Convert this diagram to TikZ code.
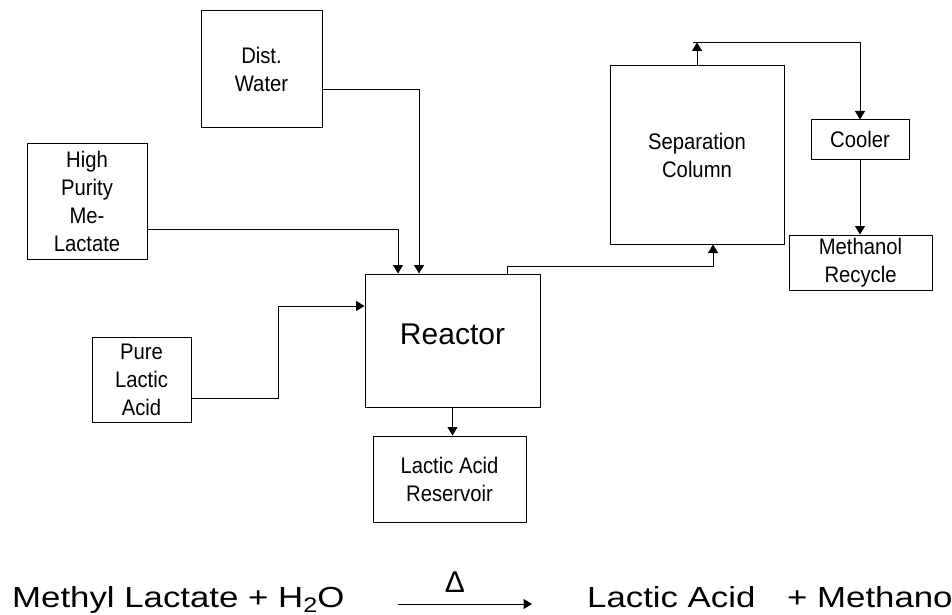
\documentclass[tikz,border=0pt]{standalone}
\usepackage{fontspec}
\setmainfont{Liberation Sans}
\newfontfamily\boxfont[FakeStretch=0.9]{Liberation Sans}
\newfontfamily\eqfont[FakeStretch=1.2]{Liberation Sans}
\usetikzlibrary{arrows.meta,calc}

\tikzset{
  unit/.style={draw, line width=1pt, inner sep=0pt, align=center,
    font=\boxfont\fontsize{22.5}{28}\selectfont},
  flow/.style={line width=0.9pt, -{Triangle[length=8.5pt,width=10pt]}},
  eqtext/.style={anchor=base west, inner sep=0pt,
    font=\eqfont\fontsize{29}{34}\selectfont}
}

\begin{document}
\begin{tikzpicture}[x=1pt,y=-1pt]
  \useasboundingbox (0,0) rectangle (952,615);
  % feed streams
  \node[unit, minimum width=121pt, minimum height=116pt] (water) at (261.5,69) {Dist.\\Water};
  \node[unit, minimum width=120pt, minimum height=116pt] (melac) at (87,201) {High\\Purity\\Me-\\Lactate};
  \node[unit, minimum width=99pt, minimum height=85pt] (pure) at (141.5,379.5) {Pure\\Lactic\\Acid};
  % reactor and reservoir
  \node[unit, minimum width=175pt, minimum height=133pt,
    font=\fontsize{30}{36}\selectfont] (reactor) at (452.5,340.5) {\raisebox{12pt}{Reactor}};
  \node[unit, minimum width=153pt, minimum height=86pt] (reservoir) at (449.5,479) {Lactic Acid\\Reservoir};
  % methanol side
  \node[unit, minimum width=174pt, minimum height=178pt] (column) at (697,155) {Separation\\Column};
  \node[unit, minimum width=98pt, minimum height=39pt] (cooler) at (860,139.5) {Cooler};
  \node[unit, minimum width=143pt, minimum height=55pt] (methanol) at (860.5,262.5) {Methanol\\Recycle};

  \draw[flow] ([yshift=-20pt]water.east) -| ([xshift=-33.5pt]reactor.north);
  \draw[flow] ([yshift=-28pt]melac.east) -| ([xshift=-54.5pt]reactor.north);
  \draw[flow] ([yshift=-18.5pt]pure.east) -- ++(87,0) |- ([yshift=34.5pt]reactor.west);
  \draw[flow] (reactor.south) -- (reactor.south |- reservoir.north);
  \draw[flow] ([xshift=54.5pt]reactor.north) -- ++(0,-7) -| ([xshift=16pt]column.south);
  % overhead to cooler
  \coordinate (ovh) at ($(column.north)+(-4,-23)$);
  \draw[flow] (column.north) -- (column.north |- ovh);
  \draw[flow] (ovh) -| (cooler.north);
  \draw[flow] (cooler.south) -- (cooler.south |- methanol.north);

  % reaction equation
  \node[eqtext] (feed) at (12,607) {Methyl Lactate + H\raisebox{-5pt}{\fontsize{21}{21}\selectfont 2}O};
  \coordinate (rxs) at (398,604);
  \coordinate (rxe) at (532,604);
  \draw[flow, line width=1pt] (rxs) -- (rxe);
  \node[anchor=base, inner sep=0pt, font=\fontsize{30}{36}\selectfont] (heat) at (455,592) {Δ};
  \node[eqtext] (prod) at (587,607) {Lactic Acid};
  \node[eqtext] (meoh) at (787,607) {+ Methanol};
\end{tikzpicture}
\end{document}
